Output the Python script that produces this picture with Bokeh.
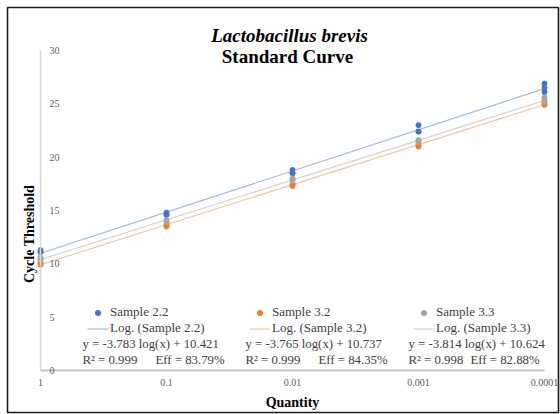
import numpy as np
from bokeh.plotting import figure
from bokeh.models import Range1d, FixedTicker, Label, Legend, LegendItem
from bokeh.embed import file_html
from bokeh.resources import INLINE

# ---------------- data ----------------
quantity = [1, 0.1, 0.01, 0.001, 0.0001]
x_tick_labels = ["1", "0.1", "0.01", "0.001", "0.0001"]
y_ticks = [0, 5, 10, 15, 20, 25, 30]
y_tick_labels = ["0", "5", "10", "15", "20", "25", "30"]

series_names = ["Sample 2.2", "Sample 3.2", "Sample 3.3"]
trend_names = ["Log. (Sample 2.2)", "Log. (Sample 3.2)", "Log. (Sample 3.3)"]
eq_texts = ["y = -3.783 log(x) + 10.421", "y = -3.765 log(x) + 10.737", "y = -3.814 log(x) + 10.624"]
r2_texts = ["R\u00b2 = 0.999", "R\u00b2 = 0.999", "R\u00b2 = 0.998"]
eff_texts = ["Eff = 83.79%", "Eff = 84.35%", "Eff = 82.88%"]

# replicate Ct values at each quantity
s22_ct = [[11.3, 11.1, 11.1], [14.8, 14.6, 14.6], [18.8, 18.5, 18.5], [23.0, 22.4, 22.4], [26.9, 26.5, 26.1]]
s32_ct = [[10.0, 9.9, 10.1], [13.6, 13.5, 13.7], [17.4, 17.3, 17.5], [21.1, 21.0, 21.2], [25.0, 25.1, 24.9]]
s33_ct = [[10.5, 10.4, 10.6], [14.0, 13.9, 14.1], [17.9, 17.8, 18.0], [21.5, 21.4, 21.6], [25.6, 25.2, 25.4]]

marker_colors = ["#4472c4", "#ed7d31", "#a5a5a5"]
trend_colors = ["#9cb3e2", "#f5bf98", "#cfcfcf"]

# ---------------- layout (pixels) ----------------
W, H = 560, 414
FL, FR, FT, FB = 7, 558, 7, 412          # chart-area box (frame) edges
PX_X0, PX_X1 = 40, 544                   # plot area left / right
PX_Y0, PX_Y1 = 370, 50                   # plot area bottom / top

lx0, lx1 = np.log10(quantity[0]), np.log10(quantity[-1])
px_per_dec = (PX_X1 - PX_X0) / (lx0 - lx1)
x_start = 10 ** (lx0 + (PX_X0 - FL) / px_per_dec)
x_end = 10 ** (lx1 - (FR - PX_X1) / px_per_dec)
px_per_unit = (PX_Y0 - PX_Y1) / (y_ticks[-1] - y_ticks[0])
y_start = y_ticks[0] - (FB - PX_Y0) / px_per_unit
y_end = y_ticks[-1] + (PX_Y1 - FT) / px_per_unit

FONT = "Liberation Serif"

p = figure(width=W, height=H, x_axis_type="log", y_axis_location="right",
           x_range=Range1d(x_start, x_end), y_range=Range1d(y_start, y_end),
           output_backend="svg", toolbar_location=None,
           min_border_left=FL, min_border_right=W - FR, min_border_top=FT, min_border_bottom=H - FB)
p.outline_line_color = "#1a1a1a"
p.outline_line_width = 1.6
p.xgrid.visible = False
p.ygrid.visible = False
p.background_fill_color = "white"
p.border_fill_color = "white"

# x axis, sitting at y = 0
xa = p.xaxis[0]
xa.fixed_location = y_ticks[0]
xa.bounds = (quantity[-1], quantity[0])
xa.ticker = FixedTicker(ticks=quantity, minor_ticks=[])
xa.major_label_overrides = {q: l for q, l in zip(quantity, x_tick_labels)}
xa.axis_line_color = "#c4c4c4"
xa.axis_line_width = 2
xa.major_tick_out = 0
xa.major_tick_in = 0
xa.minor_tick_out = 0
xa.minor_tick_in = 0
xa.major_label_text_font = FONT
xa.major_label_text_font_size = "10px"
xa.major_label_text_color = "#595959"
xa.major_label_standoff = 8

# y axis, sitting at x = 1, labels to its right
ya = p.yaxis[0]
ya.fixed_location = quantity[0]
ya.bounds = (y_ticks[0], y_ticks[-1])
ya.ticker = FixedTicker(ticks=y_ticks, minor_ticks=[])
ya.major_label_overrides = {t: l for t, l in zip(y_ticks, y_tick_labels)}
ya.axis_line_color = "#d9d9d9"
ya.axis_line_width = 1.6
ya.major_tick_out = 0
ya.major_tick_in = 0
ya.minor_tick_out = 0
ya.minor_tick_in = 0
ya.major_label_text_font = FONT
ya.major_label_text_font_size = "10px"
ya.major_label_text_color = "#595959"
ya.major_label_standoff = 9

# ---------------- series ----------------
all_ct = [s22_ct, s32_ct, s33_ct]
scatter_rs, line_rs = [], []
for i, ct in enumerate(all_ct):
    xs = [q for q, reps in zip(quantity, ct) for _ in reps]
    ys = [v for reps in ct for v in reps]
    slope, icpt = np.polyfit(np.log10(xs), ys, 1)   # log trendline fitted to the data
    tx = [quantity[0], quantity[-1]]
    ty = [slope * np.log10(v) + icpt for v in tx]
    line_rs.append(p.line(tx, ty, line_color=trend_colors[i], line_width=1.1))

for i, ct in enumerate(all_ct):
    xs = [q for q, reps in zip(quantity, ct) for _ in reps]
    ys = [v for reps in ct for v in reps]
    scatter_rs.append(p.scatter(xs, ys, size=5, fill_color=marker_colors[i],
                                line_color=marker_colors[i]))

# ---------------- legends / equations ----------------
leg_left = [87, 249, 413]
eq_x = [82, 245, 408]
eff_x = [155, 318, 470]
for i in range(3):
    leg = Legend(items=[LegendItem(label=series_names[i], renderers=[scatter_rs[i]]),
                        LegendItem(label=trend_names[i], renderers=[line_rs[i]])],
                 location=(leg_left[i] - FL, FB - 336), orientation="vertical",
                 padding=0, margin=0, spacing=0,
                 border_line_color=None, background_fill_alpha=0,
                 glyph_width=21, glyph_height=13, label_height=16, label_standoff=2,
                 label_text_font=FONT, label_text_font_size="13px", label_text_color="#404040")
    p.add_layout(leg)
    for txt, xx, yo in [(eq_texts[i], eq_x[i], 27), (r2_texts[i], eq_x[i], 11),
                        (eff_texts[i], eff_x[i], 11)]:
        p.add_layout(Label(x=quantity[0], y=y_ticks[0], x_offset=xx - PX_X0, y_offset=yo, text=txt,
                           text_baseline="middle", text_font=FONT, text_font_size="12.8px",
                           text_color="#404040"))

# ---------------- titles ----------------
p.add_layout(Label(x=quantity[2], y=y_ticks[-1], x_offset=-3, y_offset=15.5,
                   text="Lactobacillus brevis",
                   text_align="center", text_baseline="alphabetic", text_font=FONT,
                   text_font_size="19px", text_font_style="bold italic", text_color="black"))
p.add_layout(Label(x=quantity[2], y=y_ticks[-1], x_offset=-5, y_offset=-6, text="Standard Curve",
                   text_align="center", text_baseline="alphabetic", text_font=FONT,
                   text_font_size="19px", text_font_style="bold", text_color="black"))
p.add_layout(Label(x=quantity[2], y=y_ticks[0], y_offset=-32, text="Quantity",
                   text_align="center", text_baseline="middle", text_font=FONT,
                   text_font_size="14px", text_font_style="bold", text_color="black"))
p.add_layout(Label(x=quantity[0], y=12.8, x_offset=-11, text="Cycle Threshold",
                   angle=90, angle_units="deg",
                   text_align="center", text_baseline="middle", text_font=FONT,
                   text_font_size="14px", text_font_style="bold", text_color="black"))

open("out.html", "w").write(file_html(p, INLINE))
